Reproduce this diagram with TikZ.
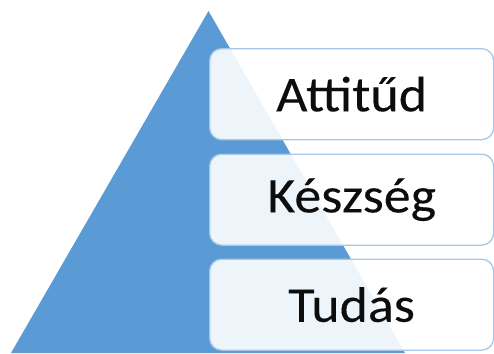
\documentclass[tikz,border=0pt]{standalone}
\usepackage{fontspec}
\setmainfont{Carlito}
\newfontfamily\boxfont[FakeStretch=1.08,FakeBold=0.15]{Carlito}
\definecolor{pyrblue}{HTML}{5B9BD5}
\definecolor{boxline}{HTML}{A6C7E8}
\definecolor{txt}{HTML}{0D0D0D}
\begin{document}
\begin{tikzpicture}[x=1pt,y=-1pt,
  levelbox/.style={draw=boxline, line width=1.3pt, fill=white, fill opacity=0.9, text opacity=1,
    rounded corners=12pt, minimum width=284pt, minimum height=91pt, inner sep=0pt,
    text=txt, font=\boxfont\fontsize{50}{60}\selectfont, anchor=north west}]
\useasboundingbox (0,0) rectangle (494,353);
\fill[pyrblue] (208.5,11) coordinate (apex) -- (405,353) coordinate (br) -- (11,353) coordinate (bl) -- cycle;
\node[levelbox] (attitud) at (209,48) {Attitűd};
\node[levelbox] (keszseg) at (209,153.5) {Készség};
\node[levelbox] (tudas) at (209,258.5) {Tudás};
\end{tikzpicture}
\end{document}
